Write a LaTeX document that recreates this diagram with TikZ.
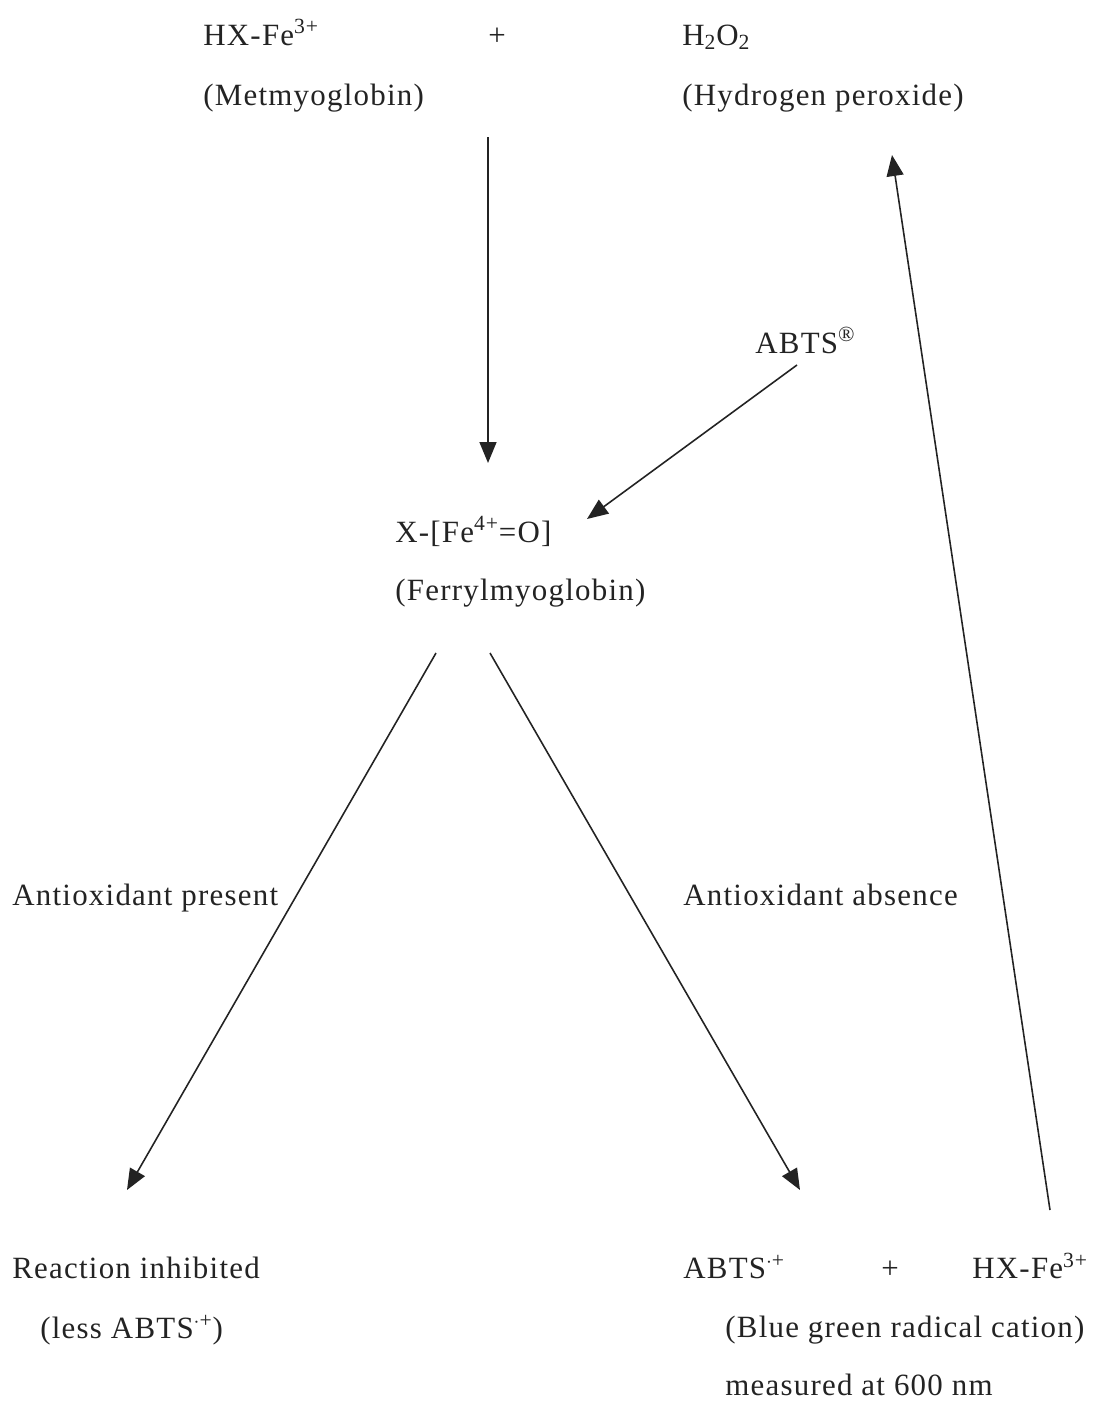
\documentclass[tikz,border=0pt]{standalone}
\usepackage{fontspec}
\setmainfont[LetterSpace=4]{Liberation Serif}
\usetikzlibrary{arrows.meta,positioning}
\definecolor{ink}{RGB}{35,35,35}
\tikzset{
  chem/.style={anchor=base west,inner sep=0pt,text=ink,
    font=\fontsize{17.6}{21}\selectfont},
  plus/.style={chem,anchor=base},
  ar/.style={draw=ink,line width=0.9pt,-{Triangle[length=0.42cm,width=0.34cm]}},
}

\begin{document}
\begin{tikzpicture}[x=0.02cm,y=-0.02cm]
  \useasboundingbox (0,0) rectangle (1105,1407);
  % starting reagents
  \node[chem] (met) at (203,45) {HX-Fe\textsuperscript{3+}};
  \node[plus] (p1) at (497,45) {+};
  \node[chem] (hp) at (682,45) {H\textsubscript{2}O\textsubscript{2}};
  \node[chem] (metname) at (203,105) {(Metmyoglobin)};
  \node[chem] (hpname) at (682,105) {(Hydrogen peroxide)};
  % ferryl species
  \node[chem] (abts) at (755,353) {ABTS\textsuperscript{\textregistered}};
  \node[chem] (fer) at (395,542) {X-[Fe\textsuperscript{4+}=O]};
  \node[chem] (fername) at (395,600) {(Ferrylmyoglobin)};
  % branches
  \node[chem] (pres) at (12,905) {Antioxidant present};
  \node[chem] (abs) at (683,905) {Antioxidant absence};
  \node[chem] (inh) at (12,1278) {Reaction inhibited};
  \node[chem] (less) at (40,1338) {(less ABTS\textsuperscript{$\cdot$+})};
  \node[chem] (rad) at (683,1278) {ABTS\textsuperscript{$\cdot$+}};
  \node[plus] (p2) at (890,1278) {+};
  \node[chem] (metb) at (972,1278) {HX-Fe\textsuperscript{3+}};
  \node[chem] (radname) at (725,1337) {(Blue green radical cation)};
  \node[chem] (nm) at (725,1395) {measured at 600 nm};
  % arrow ends
  \coordinate (d0) at (488,137);   \coordinate (d1) at (488,463);
  \coordinate (a0) at (797,365);   \coordinate (a1) at (587,519);
  \coordinate (l0) at (436,653);   \coordinate (l1) at (127,1190);
  \coordinate (r0) at (490,653);   \coordinate (r1) at (800,1190);
  \coordinate (c0) at (1050,1210); \coordinate (c1) at (892,155);
  \draw[ar] (d0) -- (d1);
  \draw[ar] (a0) -- (a1);
  \draw[ar] (l0) -- (l1);
  \draw[ar] (r0) -- (r1);
  \draw[ar] (c0) -- (c1);
\end{tikzpicture}
\end{document}
